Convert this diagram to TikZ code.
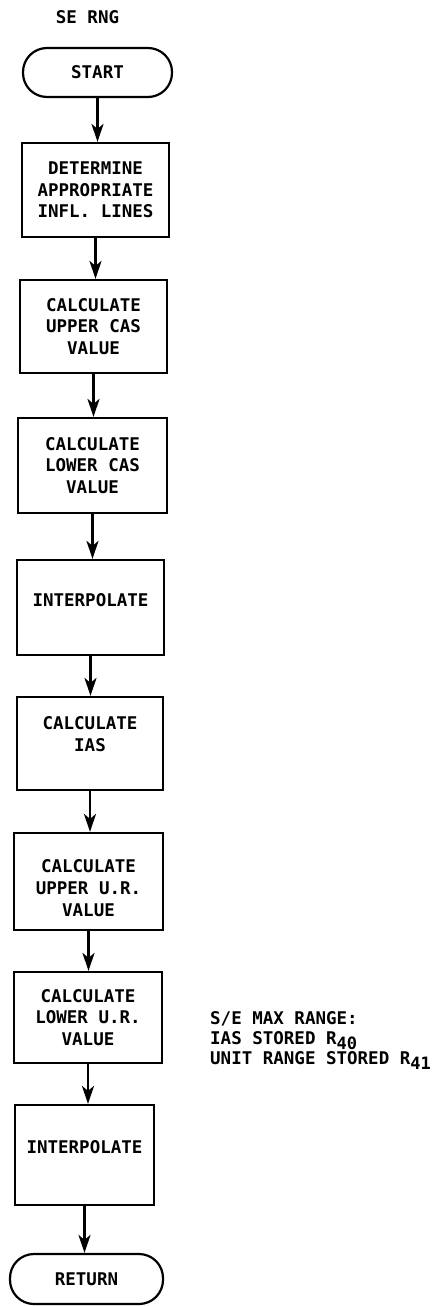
\documentclass[tikz,border=0pt]{standalone}
\usepackage{fontspec}
\setmonofont{DejaVu Sans Mono}
\usetikzlibrary{arrows.meta,calc}
\begin{document}
\begin{tikzpicture}[x=1pt,y=-1pt,
  every node/.style={font=\fontsize{17.5}{21.7}\selectfont\ttfamily\bfseries},
  box/.style={draw, line width=2.2pt, inner sep=0pt, align=center},
  term/.style={draw, line width=2.2pt, rounded corners=24pt, inner sep=0pt},
  arr/.style={line width=2.4pt, -{Stealth[length=18pt,width=12pt,inset=5pt]}},
  txt/.style={inner sep=0pt, align=center}]
\useasboundingbox (0,0) rectangle (442,1306);

\node[txt] (title) at (87.5,17) {SE RNG};
\node[term, minimum width=149pt, minimum height=49pt] (start) at (97.5,72.5) {START};
\node[box, minimum width=147pt, minimum height=94pt] (b1) at (95.5,190) {DETERMINE\\APPROPRIATE\\INFL. LINES};
\node[box, minimum width=147pt, minimum height=93pt] (b2) at (93.5,326.5) {CALCULATE\\UPPER CAS\\VALUE};
\node[box, minimum width=149pt, minimum height=95pt] (b3) at (92.5,465.5) {CALCULATE\\LOWER CAS\\VALUE};
\node[box, minimum width=147pt, minimum height=95pt] (b4) at (90.5,607.5) {};
\node[txt] (t4) at (90.5,600) {INTERPOLATE};
\node[box, minimum width=146pt, minimum height=93pt] (b5) at (90,743.5) {};
\node[txt] (t5) at (90,734) {CALCULATE\\IAS};
\node[box, minimum width=149pt, minimum height=97pt] (b6) at (88.5,881.5) {};
\node[txt] (t6) at (88.5,888) {CALCULATE\\UPPER U.R.\\VALUE};
\node[box, minimum width=148pt, minimum height=91pt] (b7) at (88,1017.5) {CALCULATE\\LOWER U.R.\\VALUE};
\node[box, minimum width=139pt, minimum height=100pt] (b8) at (84.5,1155) {};
\node[txt] (t8) at (84.5,1147) {INTERPOLATE};
\node[term, minimum width=153pt, minimum height=50pt] (ret) at (86.5,1279) {RETURN};

\node[txt, align=left, anchor=north west, font=\fontsize{17.5}{20}\selectfont\ttfamily\bfseries] (note) at (210,1011)
  {S/E MAX RANGE:\\IAS STORED R\raisebox{-5pt}{\fontsize{17}{17}\selectfont 40}\\UNIT RANGE STORED R\raisebox{-5pt}{\fontsize{17}{17}\selectfont 41}};

\draw[arr] (start.south) -- (start.south |- b1.north);
\draw[arr] (b1.south) -- (b1.south |- b2.north);
\draw[arr] (b2.south) -- (b2.south |- b3.north);
\draw[arr] (b3.south) -- (b3.south |- b4.north);
\draw[arr] (b4.south) -- (b4.south |- b5.north);
\draw[arr] (b5.south) -- (b5.south |- b6.north);
\draw[arr] (b6.south) -- (b6.south |- b7.north);
\draw[arr] (b7.south) -- (b7.south |- b8.north);
\draw[arr] (b8.south) -- (b8.south |- ret.north);
\end{tikzpicture}
\end{document}
